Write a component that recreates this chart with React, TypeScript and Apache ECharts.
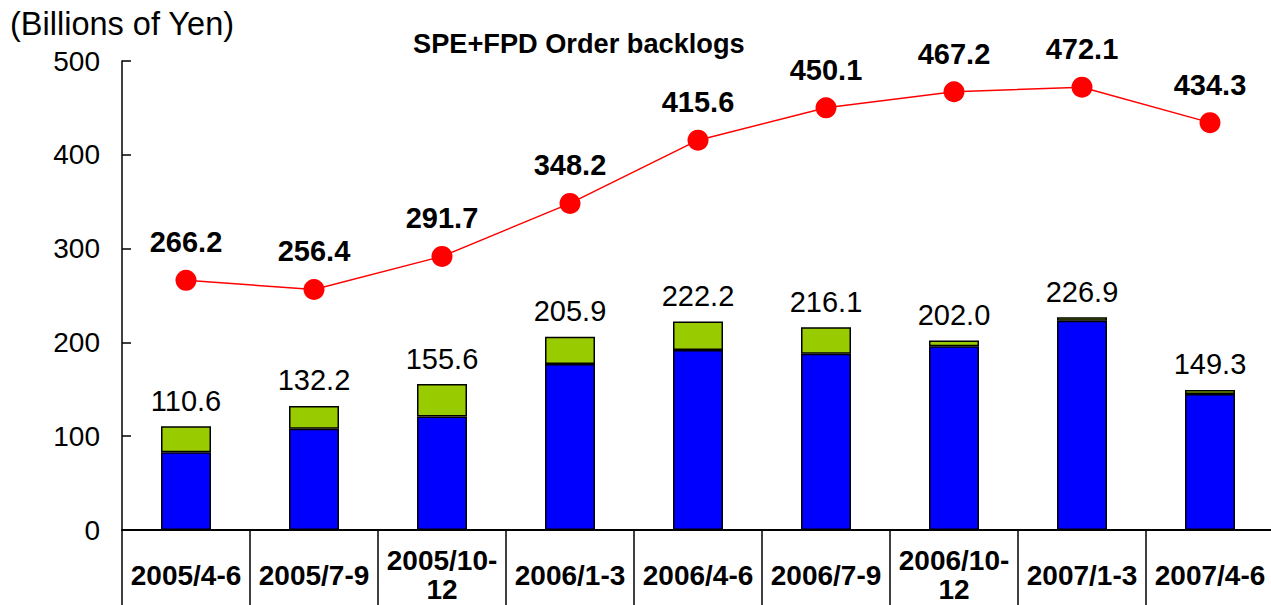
import React, { useEffect, useRef } from "react";
import * as echarts from "echarts";

const categories = [
  "2005/4-6",
  "2005/7-9",
  "2005/10-\n12",
  "2006/1-3",
  "2006/4-6",
  "2006/7-9",
  "2006/10-\n12",
  "2007/1-3",
  "2007/4-6",
];
const blueValues = [83, 108, 121, 177, 192, 188, 196, 223, 145];
const greenValues = [27.6, 24.2, 34.6, 28.9, 30.2, 28.1, 6.0, 3.9, 4.3];
const barTotals = [110.6, 132.2, 155.6, 205.9, 222.2, 216.1, 202.0, 226.9, 149.3];
const lineValues = [266.2, 256.4, 291.7, 348.2, 415.6, 450.1, 467.2, 472.1, 434.3];

const FONT = "'Liberation Sans', Arial, sans-serif";

export default function App() {
  const ref = useRef<HTMLDivElement>(null);
  useEffect(() => {
    if (!ref.current) return;
    const chart = echarts.init(ref.current, undefined, { renderer: "svg" });
    chart.setOption({
      animation: false,
      backgroundColor: "#ffffff",
      textStyle: { fontFamily: FONT },
      title: {
        text: "SPE+FPD Order backlogs",
        left: 413,
        top: 30,
        padding: 0,
        textStyle: { fontFamily: FONT, fontSize: 27.2, fontWeight: "bold", color: "#000" },
      },
      graphic: [
        {
          type: "text",
          left: 10,
          top: 7,
          style: { text: "(Billions of Yen)", fontFamily: FONT, fontSize: 32.5, fill: "#000" },
        },
      ],
      grid: {
        left: 122,
        top: 61,
        width: 1152,
        height: 469,
        containLabel: false,
        outerBoundsMode: "none",
      },
      xAxis: {
        type: "category",
        data: categories,
        axisLine: { lineStyle: { color: "#000", width: 2 } },
        axisTick: { show: true, interval: 0, length: 75, lineStyle: { color: "#000", width: 1.5 } },
        axisLabel: {
          interval: 0,
          color: "#000",
          fontFamily: FONT,
          fontWeight: "bold",
          fontSize: 28,
          lineHeight: 29,
          margin: 45,
          verticalAlign: "middle",
        },
      },
      yAxis: {
        type: "value",
        min: 0,
        max: 500,
        interval: 100,
        axisLine: { show: true, lineStyle: { color: "#000", width: 1.5 } },
        axisTick: { show: true, inside: true, length: 9, lineStyle: { color: "#000", width: 1.5 } },
        splitLine: { show: false },
        axisLabel: { color: "#000", fontFamily: FONT, fontSize: 28, margin: 22 },
      },
      series: [
        {
          type: "bar",
          stack: "a",
          data: blueValues,
          barWidth: 50,
          itemStyle: { color: "#0000ff", borderColor: "#000", borderWidth: 1.5 },
        },
        {
          type: "bar",
          stack: "a",
          data: greenValues,
          barWidth: 50,
          itemStyle: { color: "#99cc00", borderColor: "#000", borderWidth: 1.5 },
          label: {
            show: true,
            position: "top",
            distance: 11,
            formatter: (p: any) => barTotals[p.dataIndex].toFixed(1),
            color: "#000",
            fontFamily: FONT,
            fontSize: 29,
          },
        },
        {
          type: "line",
          data: lineValues,
          symbol: "circle",
          symbolSize: 21,
          lineStyle: { color: "#ff0000", width: 1.5 },
          itemStyle: { color: "#ff0000" },
          label: {
            show: true,
            position: "top",
            distance: 13,
            formatter: (p: any) => Number(p.value).toFixed(1),
            color: "#000",
            fontFamily: FONT,
            fontSize: 29,
            fontWeight: "bold",
          },
        },
      ],
    });
    return () => chart.dispose();
  }, []);
  return (
    <div
      ref={ref}
      style={{ position: "fixed", left: 0, top: 0, width: 1271, height: 605, background: "#fff" }}
    />
  );
}
